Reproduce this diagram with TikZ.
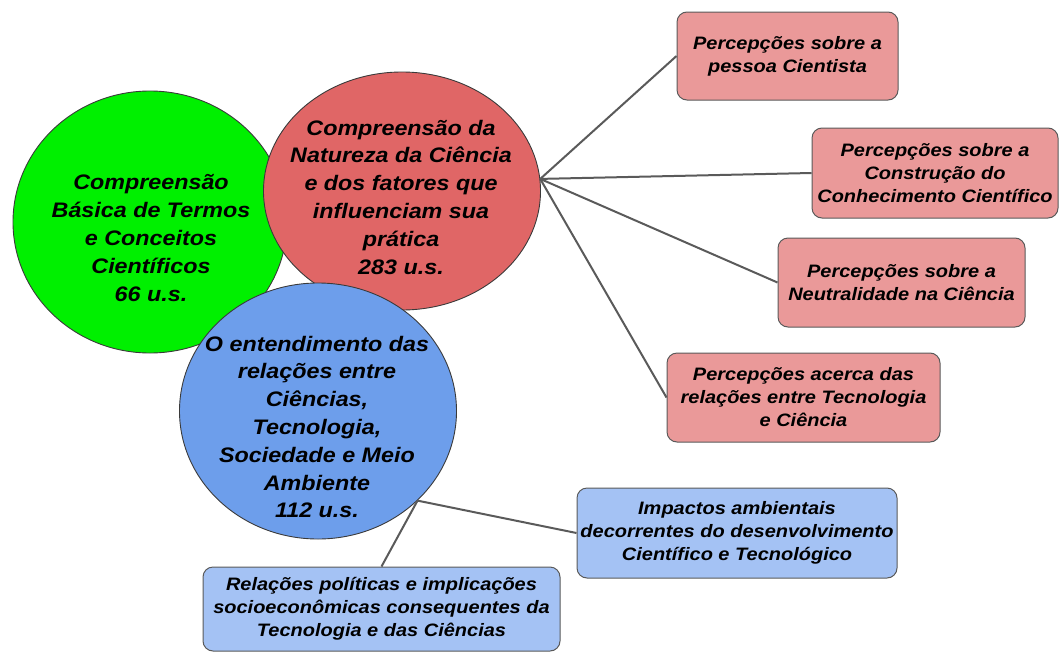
\documentclass[tikz,border=0pt]{standalone}
\usepackage{fontspec}
\setmainfont{Liberation Sans}[FakeStretch=1.11]
\usetikzlibrary{shapes.geometric}
\definecolor{cgreen}{HTML}{00F000}
\definecolor{cred}{HTML}{E06666}
\definecolor{cblue}{HTML}{6D9EEB}
\definecolor{lred}{HTML}{EA9999}
\definecolor{lblue}{HTML}{A4C2F4}
\definecolor{edge}{HTML}{5A5A5A}
\definecolor{rim}{HTML}{3A3A3A}
\tikzset{
  blob/.style={ellipse, draw=rim, line width=0.9pt, inner sep=0pt},
  blobtext/.style={align=center, font=\fontsize{21}{27.8}\selectfont\bfseries\itshape, inner sep=0pt},
  leaf/.style={rectangle, rounded corners=10pt, draw=edge, line width=1pt, align=center,
    font=\fontsize{18}{23}\selectfont\bfseries\itshape, inner sep=0pt},
  redleaf/.style={leaf, fill=lred},
  blueleaf/.style={leaf, fill=lblue},
  link/.style={draw=edge, line width=2pt}
}
\begin{document}
\begin{tikzpicture}[x=1pt,y=-1pt]
\useasboundingbox (0,0) rectangle (1059,653);
% circles
\node[blob, fill=cgreen, minimum width=274pt, minimum height=262pt] (green) at (150,222) {};
\node[blob, fill=cred, minimum width=277pt, minimum height=238pt] (red) at (402,191) {};
\node[blob, fill=cblue, minimum width=277pt, minimum height=256pt] (blue) at (318,411) {};
\node[blobtext] (greent) at (151,238) {Compreensão\\Básica de Termos\\e Conceitos\\Científicos\\66 u.s.};
\node[blobtext] (redt) at (401,197) {Compreensão da\\Natureza da Ciência\\e dos fatores que\\influenciam sua\\prática\\283 u.s.};
\node[blobtext] (bluet) at (317,427) {O entendimento das\\relações entre\\Ciências,\\Tecnologia,\\Sociedade e Meio\\Ambiente\\112 u.s.};
% boxes
\node[redleaf, minimum width=221pt, minimum height=88pt] (b1) at (787.5,56) {Percepções sobre a\\pessoa Cientista};
\node[redleaf, minimum width=246pt, minimum height=90pt] (b2) at (935,173) {Percepções sobre a\\Construção do\\Conhecimento Científico};
\node[redleaf, minimum width=247pt, minimum height=89pt] (b3) at (901.5,282.5) {Percepções sobre a\\Neutralidade na Ciência};
\node[redleaf, minimum width=273pt, minimum height=89pt] (b4) at (803.5,397.5) {Percepções acerca das\\relações entre Tecnologia\\e Ciência};
\node[blueleaf, minimum width=320pt, minimum height=90pt] (b5) at (737,533) {Impactos ambientais\\decorrentes do desenvolvimento\\Científico e Tecnológico};
\node[blueleaf, minimum width=357pt, minimum height=84pt] (b6) at (381.5,609) {Relações políticas e implicações\\socioeconômicas consequentes da\\Tecnologia e das Ciências};
% connectors
\draw[link] (red.5) -- (b1.west);
\draw[link] (red.5) -- (b2.west);
\draw[link] (red.5) -- (b3.west);
\draw[link] (red.5) -- (b4.west);
\draw[link] (blue.-42) -- (b5.west);
\draw[link] (blue.-42) -- (b6.north);
\end{tikzpicture}
\end{document}
